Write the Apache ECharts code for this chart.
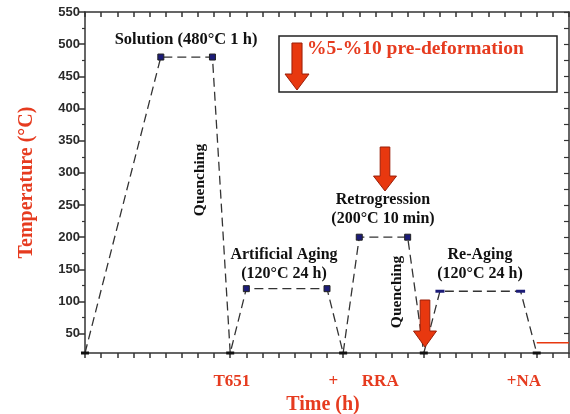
<!DOCTYPE html>
<html><head><meta charset="utf-8">
<script src="https://cdn.jsdelivr.net/npm/echarts@6/dist/echarts.min.js"></script>
<style>html,body{margin:0;padding:0;background:#fff}#c{width:570px;height:414px}</style>
</head><body><div id="c"></div>
<script>
// ---- data ----
const timePts = [0, 4.7, 7.9, 9.0, 10.0, 15.0, 16.0, 17.0, 20.0, 21.0, 22.0, 27.0, 28.0];
const tempPts = [20, 480, 480, 20, 120, 120, 20, 200, 200, 20, 116, 116, 20];
const markerKind = ['base','hold','hold','base','hold','hold','base','hold','hold','base','dash','dash','base'];
const naSegX = [28, 30];
const naSegY = [36, 36];
const yLabelTicks = [50,100,150,200,250,300,350,400,450,500,550];
const yMinorTicks = [75,125,175,225,275,325,375,425,475,525];
const xStageLabelPos = [9.1, 15.4, 18.3, 27.2];
const xStageLabelText = ['T651', '+', 'RRA', '+NA'];

const RED = '#e63b1f';
const SERIF = '"Liberation Serif", "Times New Roman", serif';

const kindStyle = {
  base: {symbol: 'rect', symbolSize: [8, 3], itemStyle: {color: '#111', borderWidth: 0}},
  hold: {symbol: 'rect', symbolSize: 6, itemStyle: {color: '#1c1c78', borderColor: '#222', borderWidth: 1}},
  dash: {symbol: 'rect', symbolSize: [9, 3], itemStyle: {color: '#1c1c78', borderWidth: 0}}
};
const lineData = timePts.map((t, i) => Object.assign({value: [t, tempPts[i]]}, kindStyle[markerKind[i]]));
const naData = naSegX.map((t, i) => [t, naSegY[i]]);

function arrow(cx, top, w, h) {
  const sw = w * 0.42, hh = h * 0.34;
  return {type: 'polygon', z: 100,
    shape: {points: [[cx - sw/2, top], [cx + sw/2, top], [cx + sw/2, top + h - hh], [cx + w/2, top + h - hh],
      [cx, top + h], [cx - w/2, top + h - hh], [cx - sw/2, top + h - hh]]},
    style: {fill: '#e8380f', stroke: '#9a1e08', lineWidth: 1}};
}
function txt(x, y, s, size, opts) {
  return Object.assign({type: 'text', x: x, y: y, z: 100,
    style: {text: s, font: 'bold ' + size + 'px ' + SERIF, fill: '#111', align: 'center', verticalAlign: 'middle'}}, opts || {});
}

const chart = echarts.init(document.getElementById('c'));
const axisLineStyle = {color: '#333', width: 1.5};
chart.setOption({
  animation: false,
  backgroundColor: '#fff',
  grid: {left: 85, right: 1, top: 12, bottom: 61, containLabel: false, outerBoundsMode: 'none'},
  xAxis: [
    {type: 'value', position: 'bottom', min: 0, max: 30, interval: 1,
      axisLine: {show: true, onZero: false, lineStyle: axisLineStyle},
      axisTick: {show: true, inside: false, length: 5, lineStyle: {color: '#333', width: 1.5}},
      axisLabel: {show: false}, splitLine: {show: false}},
    {type: 'value', position: 'top', min: 0, max: 30, interval: 1,
      axisLine: {show: true, onZero: false, lineStyle: axisLineStyle},
      axisTick: {show: true, inside: true, length: 5, lineStyle: {color: '#333', width: 1.5}},
      axisLabel: {show: false}, splitLine: {show: false}},
    {type: 'value', position: 'bottom', min: 0, max: 30,
      axisLine: {show: false}, axisTick: {show: false}, splitLine: {show: false},
      axisLabel: {show: true, customValues: xStageLabelPos, margin: 20, color: RED,
        fontFamily: SERIF, fontWeight: 'bold', fontSize: 17,
        formatter: v => { const i = xStageLabelPos.indexOf(v); return i >= 0 ? xStageLabelText[i] : ''; }},
      name: 'Time (h)', nameLocation: 'middle', nameGap: 42,
      nameTextStyle: {color: RED, fontFamily: SERIF, fontWeight: 'bold', fontSize: 20, padding: [0, 8, 0, 0]}}
  ],
  yAxis: [
    {type: 'value', position: 'left', min: 20, max: 550,
      axisLine: {show: true, onZero: false, lineStyle: axisLineStyle},
      axisTick: {show: true, customValues: yLabelTicks, inside: false, length: 6, lineStyle: {color: '#333', width: 1.5}},
      axisLabel: {show: true, customValues: yLabelTicks, margin: 5, color: '#2a2a2a',
        fontFamily: 'Liberation Sans, Arial', fontSize: 13, fontWeight: 'bold'},
      splitLine: {show: false},
      name: 'Temperature (°C)', nameLocation: 'middle', nameGap: 48,
      nameTextStyle: {color: RED, fontFamily: SERIF, fontWeight: 'bold', fontSize: 20}},
    {type: 'value', position: 'left', min: 20, max: 550,
      axisLine: {show: false},
      axisTick: {show: true, customValues: yMinorTicks, inside: false, length: 3, lineStyle: {color: '#333', width: 1.2}},
      axisLabel: {show: false}, splitLine: {show: false}},
    {type: 'value', position: 'right', min: 20, max: 550,
      axisLine: {show: true, onZero: false, lineStyle: axisLineStyle},
      axisTick: {show: true, customValues: yLabelTicks.concat(yMinorTicks), inside: true, length: 5, lineStyle: {color: '#333', width: 1.2}},
      axisLabel: {show: false}, splitLine: {show: false}}
  ],
  series: [
    {type: 'line', xAxisIndex: 0, yAxisIndex: 0, data: lineData, showAllSymbol: true,
      lineStyle: {color: '#333', width: 1.3, type: [9, 5]}, z: 5},
    {type: 'line', xAxisIndex: 0, yAxisIndex: 0, data: naData, symbol: 'none',
      lineStyle: {color: '#e8380f', width: 1.5}, z: 4}
  ],
  graphic: [
    {type: 'rect', z: 90, shape: {x: 279, y: 36, width: 278, height: 56},
      style: {fill: '#fff', stroke: '#222', lineWidth: 1.5}},
    arrow(297, 43, 24, 47),
    {type: 'text', x: 307, y: 49, z: 100,
      style: {text: '%5-%10 pre-deformation', font: 'bold 19.5px ' + SERIF, fill: RED, align: 'left', verticalAlign: 'middle'}},
    arrow(385, 147, 23, 44),
    arrow(425, 300, 23, 47),
    txt(186, 40, 'Solution (480°C 1 h)', 16.5),
    txt(200, 180, 'Quenching', 15.5, {rotation: Math.PI / 2}),
    txt(284, 255, 'Artificial Aging', 16),
    txt(284, 274, '(120°C 24 h)', 16),
    txt(383, 200, 'Retrogression', 16),
    txt(383, 219, '(200°C 10 min)', 16),
    txt(397, 292, 'Quenching', 15.5, {rotation: Math.PI / 2}),
    txt(480, 255, 'Re-Aging', 16),
    txt(480, 274, '(120°C 24 h)', 16)
  ]
});
</script></body></html>
